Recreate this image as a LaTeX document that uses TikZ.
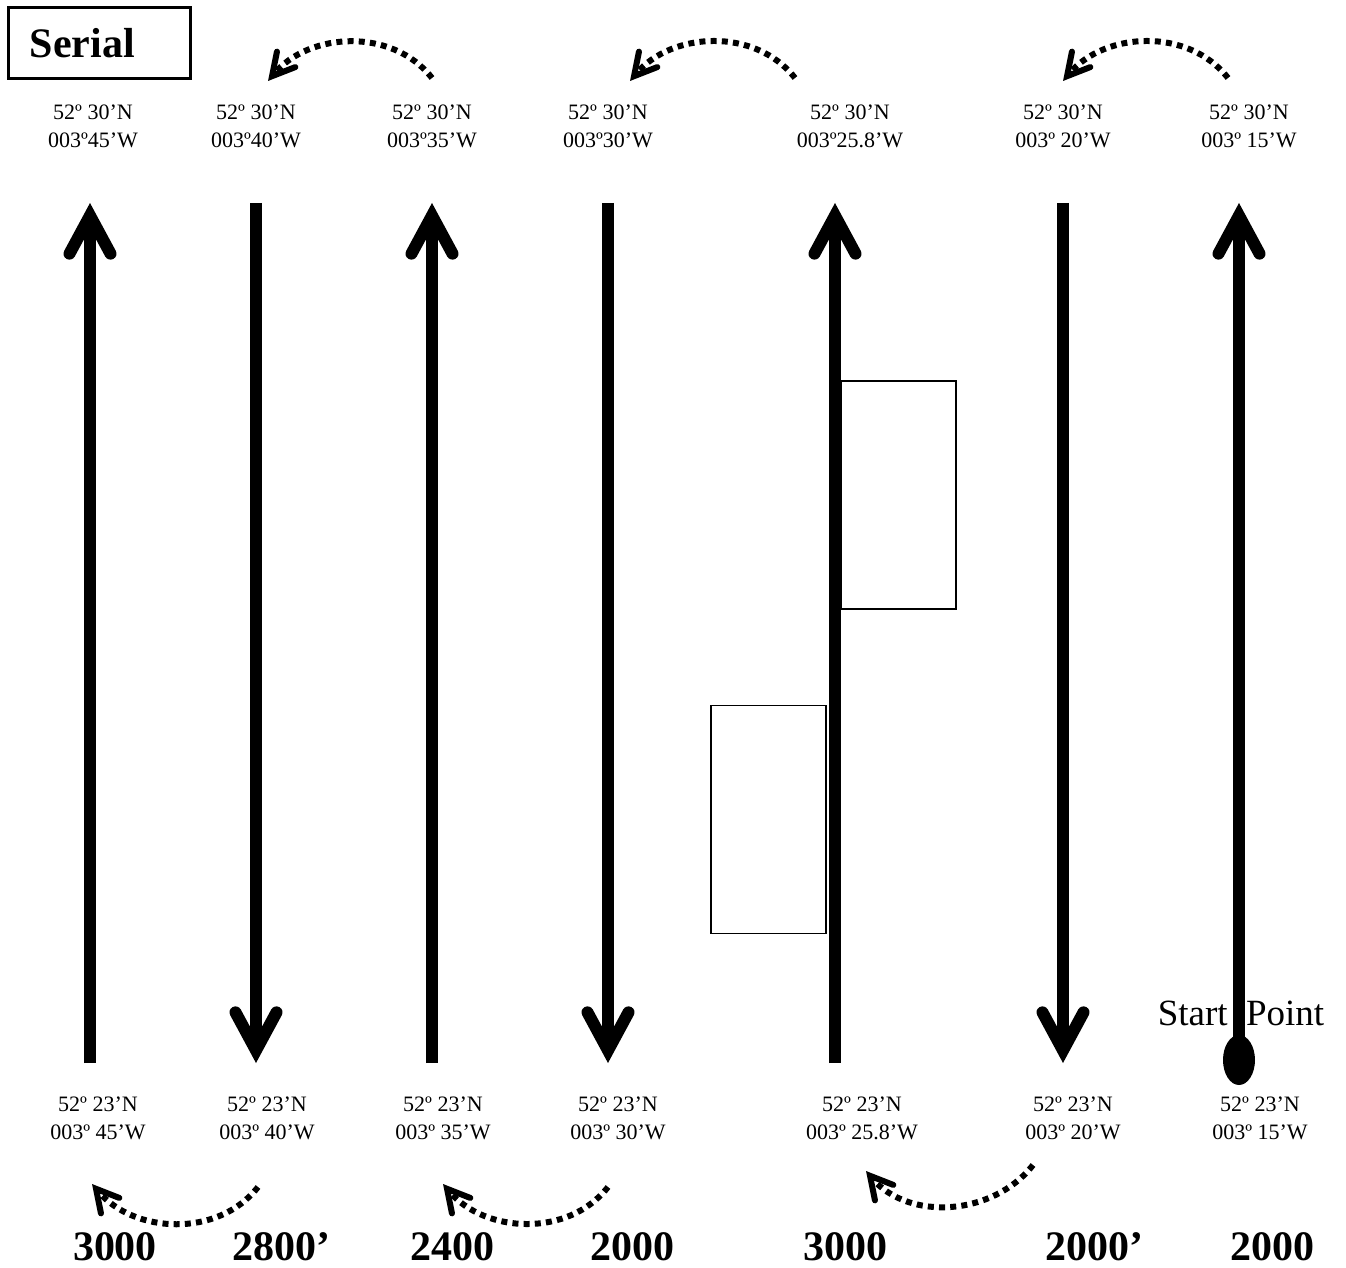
\documentclass[tikz,border=0pt]{standalone}
\usepackage{fontspec}
\setmainfont{Liberation Serif}
\usetikzlibrary{arrows.meta,shapes.geometric}
\begin{document}
\begin{tikzpicture}[x=0.5pt,y=-0.5pt,
  coord/.style={font=\fontsize{11}{14}\selectfont, align=center, anchor=base, inner sep=0},
  big/.style={font=\fontsize{21}{25}\selectfont\bfseries, anchor=base, inner sep=0},
  track/.style={line width=6pt},
  trackarrow/.style={track, -{Straight Barb[length=19pt,width=20.5pt,line cap=round,line join=miter]}},
  turn/.style={line width=3pt, dash pattern=on 3pt off 2.6pt, -{Straight Barb[length=11pt,width=12pt,line cap=round,line join=miter]}},
  panel/.style={draw, line width=0.75pt, minimum width=57.5pt, minimum height=114pt, inner sep=0}
]
\useasboundingbox (0,0) rectangle (1346,1268);

% title box
\node[draw, line width=1.5pt, minimum width=91pt, minimum height=35.5pt, inner xsep=11pt, inner ysep=0pt,
      text width=69pt, align=left, font=\fontsize{21}{25}\selectfont\bfseries] (serial) at (99,43.5) {Serial};

% track end points
\coordinate (b1) at (90,1063);   \coordinate (t1) at (90,203);
\coordinate (t2) at (256,203);   \coordinate (b2) at (256,1063);
\coordinate (b3) at (432,1063);  \coordinate (t3) at (432,203);
\coordinate (t4) at (608,203);   \coordinate (b4) at (608,1063);
\coordinate (b5) at (835,1063);  \coordinate (t5) at (835,203);
\coordinate (t6) at (1063,203);  \coordinate (b6) at (1063,1063);
\coordinate (t7) at (1239,203);

% start point
\node[ellipse, fill=black, minimum width=16pt, minimum height=25pt, inner sep=0] (start) at (1239,1060) {};
\node[font=\fontsize{18.5}{22}\selectfont, anchor=base, inner sep=0] (sptext) at (1241,1025) {Start\hspace{4.5pt} Point};

% tracks
\draw[trackarrow] (b1) -- (t1);
\draw[trackarrow] (t2) -- (b2);
\draw[trackarrow] (b3) -- (t3);
\draw[trackarrow] (t4) -- (b4);
\draw[trackarrow] (b5) -- (t5);
\draw[trackarrow] (t6) -- (b6);
\draw[trackarrow] (start.center) -- (t7);

% panels
\node[panel] (p1) at (898.5,495) {};
\node[panel] (p2) at (768.5,819.5) {};

% top labels
\node[coord] (n1) at (93,148)   {52º 30’N\\003º45’W};
\node[coord] (n2) at (256,148)  {52º 30’N\\003º40’W};
\node[coord] (n3) at (432,148)  {52º 30’N\\003º35’W};
\node[coord] (n4) at (608,148)  {52º 30’N\\003º30’W};
\node[coord] (n5) at (850,148)  {52º 30’N\\003º25.8’W};
\node[coord] (n6) at (1063,148) {52º 30’N\\003º 20’W};
\node[coord] (n7) at (1249,148) {52º 30’N\\003º 15’W};

% bottom labels
\node[coord] (s1) at (98,1139)   {52º 23’N\\003º 45’W};
\node[coord] (s2) at (267,1139)  {52º 23’N\\003º 40’W};
\node[coord] (s3) at (443,1139)  {52º 23’N\\003º 35’W};
\node[coord] (s4) at (618,1139)  {52º 23’N\\003º 30’W};
\node[coord] (s5) at (862,1139)  {52º 23’N\\003º 25.8’W};
\node[coord] (s6) at (1073,1139) {52º 23’N\\003º 20’W};
\node[coord] (s7) at (1260,1139) {52º 23’N\\003º 15’W};

% altitudes
\node[big] (h1) at (115,1260)  {3000};
\node[big] (h2) at (281,1260)  {2800’};
\node[big] (h3) at (452,1260)  {2400};
\node[big] (h4) at (632,1260)  {2000};
\node[big] (h5) at (845,1260)  {3000};
\node[big] (h6) at (1094,1260) {2000’};
\node[big] (h7) at (1272,1260) {2000};

% turn arcs, top
\coordinate (ua1) at (432,78);  \coordinate (ub1) at (268,81);
\coordinate (ua2) at (795,78);  \coordinate (ub2) at (630,81);
\coordinate (ua3) at (1228,78); \coordinate (ub3) at (1063,81);
\draw[turn] (ua1) to[out=128,in=50] (ub1);
\draw[turn] (ua2) to[out=128,in=50] (ub2);
\draw[turn] (ua3) to[out=128,in=50] (ub3);

% turn arcs, bottom
\coordinate (la1) at (258,1187);  \coordinate (lb1) at (92,1184);
\coordinate (la2) at (608,1187);  \coordinate (lb2) at (443,1184);
\coordinate (la3) at (1033,1165); \coordinate (lb3) at (866,1171);
\draw[turn] (la1) to[out=232,in=310] (lb1);
\draw[turn] (la2) to[out=232,in=310] (lb2);
\draw[turn] (la3) to[out=232,in=310] (lb3);
\end{tikzpicture}
\end{document}
